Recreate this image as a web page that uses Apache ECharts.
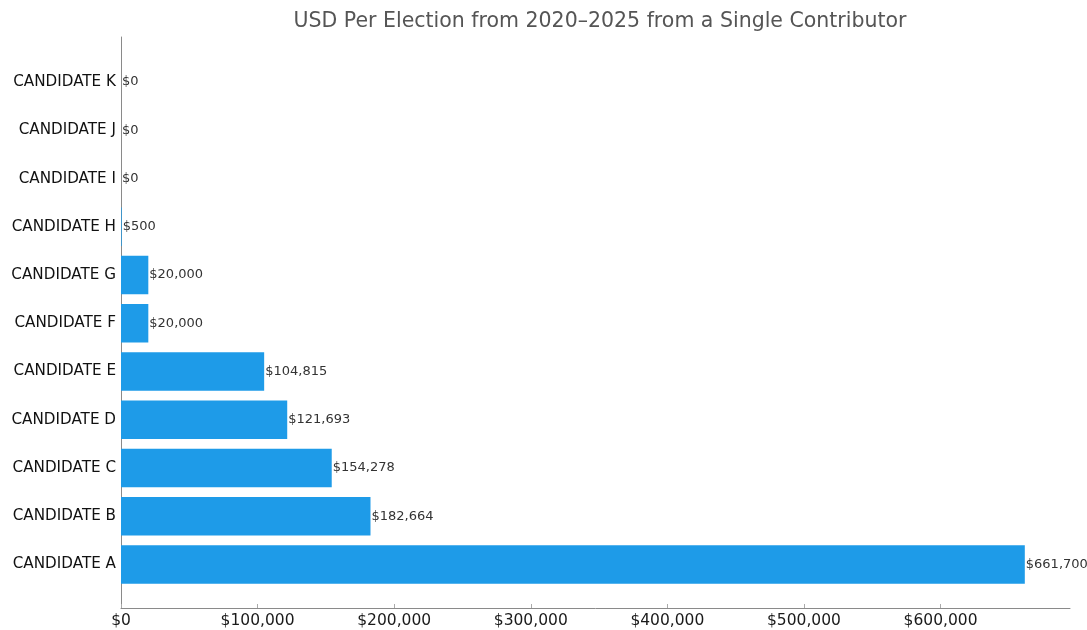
<!DOCTYPE html>
<html>
<head>
<meta charset="utf-8">
<script src="https://cdn.jsdelivr.net/npm/echarts@6/dist/echarts.min.js"></script>
<style>html,body{margin:0;padding:0;background:#fff;}#c{width:1087px;height:630px;}</style>
</head>
<body>
<div id="c"></div>
<script>
const categories = ['CANDIDATE A','CANDIDATE B','CANDIDATE C','CANDIDATE D','CANDIDATE E','CANDIDATE F','CANDIDATE G','CANDIDATE H','CANDIDATE I','CANDIDATE J','CANDIDATE K'];
const amounts = [661700, 182664, 154278, 121693, 104815, 20000, 20000, 500, 0, 0, 0];
const xTicks = [0, 100000, 200000, 300000, 400000, 500000, 600000];
const titleText = 'USD Per Election from 2020–2025 from a Single Contributor';

const xMax = 694785;
const fmt = v => '$' + Math.round(v).toLocaleString('en-US');
const font = 'DejaVu Sans';

const chart = echarts.init(document.getElementById('c'), null, {renderer: 'canvas'});
chart.setOption({
  animation: false,
  backgroundColor: '#fff',
  title: {
    text: titleText, left: 595, top: 6, textAlign: 'center',
    textStyle: {fontFamily: font, fontSize: 20.5, fontWeight: 'normal', color: '#555'}
  },
  grid: [
    {left: 121, right: 17, top: 37, bottom: 22, containLabel: false},
    {left: 121, right: 17, top: 58, bottom: 41.4, containLabel: false}
  ],
  xAxis: [
    {
      gridIndex: 0, type: 'value', min: 0, max: xMax, interval: 100000,
      axisLine: {show: true, lineStyle: {color: '#8a8a8a', width: 1}},
      axisTick: {show: true, inside: true, length: 4, lineStyle: {color: '#aaa'}},
      splitLine: {show: false},
      axisLabel: {
        fontFamily: font, fontSize: 15.5, color: '#1a1a1a', margin: 5,
        formatter: v => (xTicks.includes(v) ? fmt(v) : ''),
        showMaxLabel: false
      }
    },
    {
      gridIndex: 1, type: 'value', min: 0, max: xMax, interval: 100000,
      show: false, splitLine: {show: false}
    }
  ],
  yAxis: [
    {
      gridIndex: 0, type: 'value', min: 0, max: 1,
      axisLine: {show: true, onZero: false, lineStyle: {color: '#8a8a8a', width: 1}},
      axisTick: {show: false}, axisLabel: {show: false}, splitLine: {show: false}
    },
    {
      gridIndex: 1, type: 'category', data: categories,
      axisLine: {show: false}, axisTick: {show: false}, splitLine: {show: false},
      axisLabel: {fontFamily: font, fontSize: 15.2, color: '#111', margin: 5}
    }
  ],
  series: [{
    type: 'bar', xAxisIndex: 1, yAxisIndex: 1,
    data: amounts, barWidth: '80%',
    itemStyle: {color: '#1E9BE8'},
    label: {
      show: true, position: 'right', distance: 1,
      fontFamily: font, fontSize: 13, color: '#333',
      formatter: p => fmt(p.value)
    }
  }]
});
</script>
</body>
</html>
